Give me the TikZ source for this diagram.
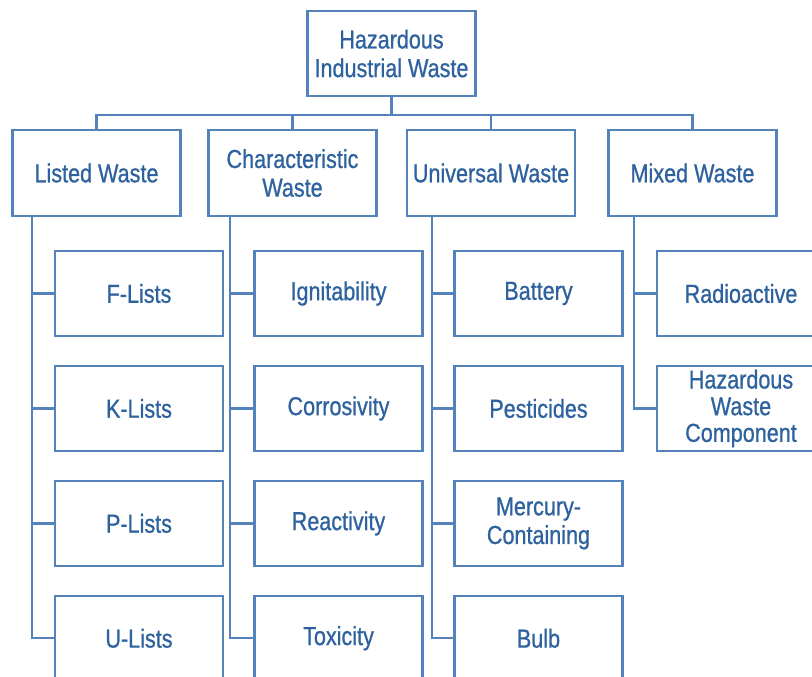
\documentclass[tikz,border=0pt]{standalone}
\usepackage{fontspec}
\setmainfont[FakeStretch=0.83, FakeBold=0.8]{Liberation Sans}
\usepackage{tikz}
\usetikzlibrary{positioning}
\definecolor{wasteline}{RGB}{84,130,186}
\definecolor{wastetext}{RGB}{46,98,158}
\tikzstyle{wbox}=[rectangle, draw=wasteline, line width=1.7pt, minimum width=126pt, minimum height=64pt, inner sep=1pt, align=center, text=wastetext, font=\fontsize{19.5}{21.5}\selectfont]
\tikzstyle{link}=[draw=wasteline, line width=1.7pt]

\begin{document}
\begin{tikzpicture}[x=0.75pt, y=-0.75pt, node distance=20.5pt]
          \useasboundingbox (0,0) rectangle (812,676);
          \clip (0,0) rectangle (812,676);
          \fill[white] (0,0) rectangle (812,676);

          % top and first level
          \node[wbox] (root) at (391.5,53.5) {Hazardous\\Industrial Waste};
          \node[wbox] (listed) at (96.5,173) {Listed Waste};
          \node[wbox] (charac) at (292.5,173) {Characteristic\\Waste};
          \node[wbox] (univ) at (491,173) {Universal Waste};
          \node[wbox] (mixed) at (692.5,173) {Mixed Waste};

          % second level
          \node[wbox] (flist) at (139,293.5) {F-Lists};
          \node[wbox] (klist) [below=of flist] {K-Lists};
          \node[wbox] (plist) [below=of klist] {P-Lists};
          \node[wbox] (ulist) [below=of plist] {U-Lists};

          \node[wbox] (ignit) at (338.5,293.5) {Ignitability};
          \node[wbox] (corro) [below=of ignit] {Corrosivity};
          \node[wbox] (react) [below=of corro] {Reactivity};
          \node[wbox] (toxic) [below=of react] {Toxicity};

          \node[wbox] (batt) at (538.5,293.5) {Battery};
          \node[wbox] (pest) [below=of batt] {Pesticides};
          \node[wbox] (merc) [below=of pest] {Mercury-\\Containing};
          \node[wbox] (bulb) [below=of merc] {Bulb};

          \node[wbox] (radio) at (741,293.5) {Radioactive};
          \node[wbox, font=\fontsize{19.5}{20}\selectfont] (hwc) [below=of radio] {Hazardous\\Waste\\Component};

          % bus
          \draw[link] (root.south) -- ++(0,18) coordinate (bus);
          \draw[link] (listed.north) |- (bus) -| (mixed.north);
          \draw[link] (charac.north) -- (charac.north |- bus);
          \draw[link] (univ.north) -- (univ.north |- bus);

          % trunks
          \coordinate (lt) at (32,0);
          \coordinate (ct) at (230,0);
          \coordinate (ut) at (432,0);
          \coordinate (mt) at (634,0);
          \draw[link] (listed.south -| lt) |- (ulist.west);
          \draw[link] (charac.south -| ct) |- (toxic.west);
          \draw[link] (univ.south -| ut) |- (bulb.west);
          \draw[link] (mixed.south -| mt) |- (hwc.west);
          \foreach \k in {flist, klist, plist}
                \draw[link] (lt |- \k.west) -- (\k.west);
          \foreach \k in {ignit, corro, react}
                \draw[link] (ct |- \k.west) -- (\k.west);
          \foreach \k in {batt, pest, merc}
                \draw[link] (ut |- \k.west) -- (\k.west);
          \draw[link] (mt |- radio.west) -- (radio.west);
        \end{tikzpicture}
\end{document}
